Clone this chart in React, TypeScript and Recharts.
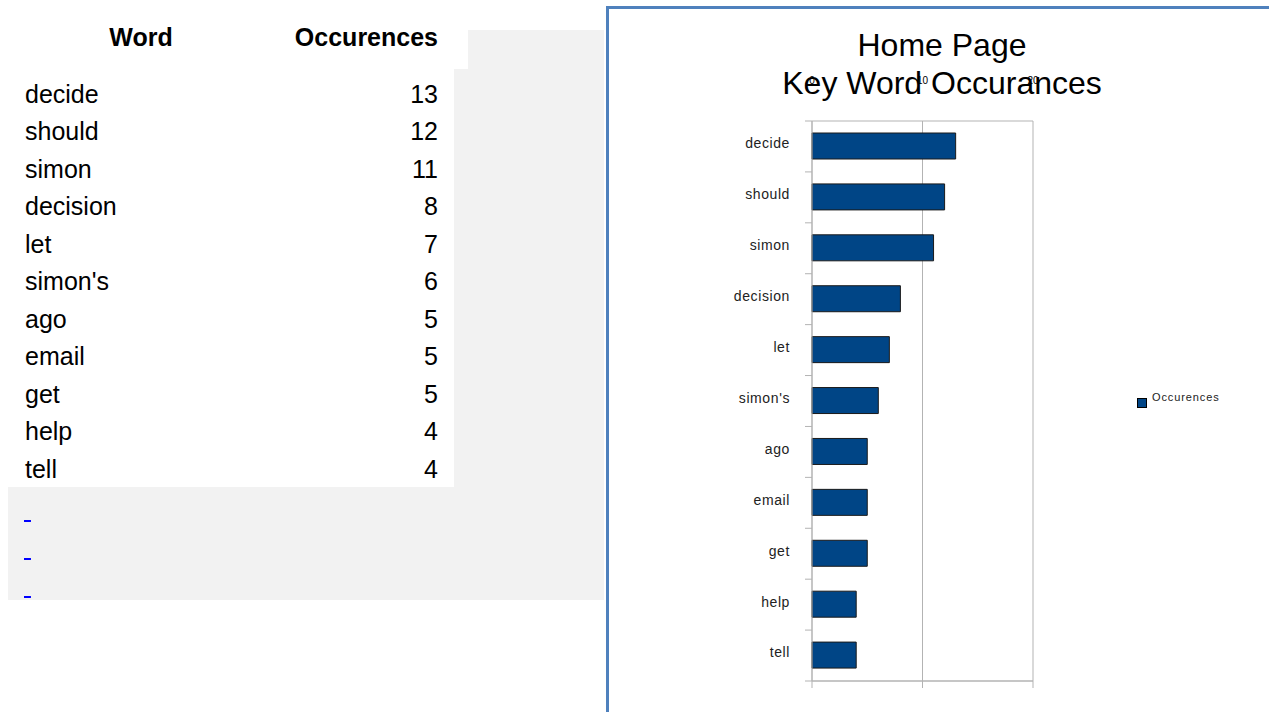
import React from 'react'
import { BarChart, Bar, XAxis, YAxis, CartesianGrid, Legend } from 'recharts'

const words = ['decide', 'should', 'simon', 'decision', 'let', "simon's", 'ago', 'email', 'get', 'help', 'tell']
const occurences = [13, 12, 11, 8, 7, 6, 5, 5, 5, 4, 4]
const xTicks = [0, 10, 20]
const linkRows = ['', '', '']

const data = words.map((w, i) => ({ word: w, Occurences: occurences[i] }))

const gridGray = '#b3b3b3'
const barBlue = '#004586'
const font = '"Liberation Sans", Arial, sans-serif'

// value ticks: line below the plot, label printed up near the title (as in the original)
const ValueTick = (props: any) => {
    const { x, payload } = props
    return (
        <text x={x} y={75} textAnchor="middle" fontSize={10} fontFamily={font} fill="#000">
            {payload.value}
        </text>
    )
}

const WordTick = (props: any) => {
    const { x, y, payload, index } = props
    const half = payload.offset || 25.45
    return (
        <g>
            <line x1={x - 7} x2={x} y1={y - half} y2={y - half} stroke={gridGray} />
            {index === words.length - 1 && (
                <line x1={x - 7} x2={x} y1={y + half} y2={y + half} stroke={gridGray} />
            )}
            <text
                x={x - 22}
                y={y - 3}
                dy="0.35em"
                textAnchor="end"
                fontSize={14}
                letterSpacing={0.6}
                fontFamily={font}
                fill="#222"
            >
                {payload.value}
            </text>
        </g>
    )
}

const LegendBox = () => (
    <div style={{ position: 'relative', width: 100, height: 16, fontFamily: font }}>
        <span
            style={{
                position: 'absolute', left: 0, top: 6, width: 8, height: 8,
                background: barBlue, border: '1px solid #000',
            }}
        />
        <span
            style={{
                position: 'absolute', left: 15, top: 0, fontSize: 11, lineHeight: '11px',
                letterSpacing: 0.9, color: '#222', whiteSpace: 'nowrap',
            }}
        >
            Occurences
        </span>
    </div>
)

const App = () => {
    return (
        <div
            style={{
                position: 'fixed', top: 0, left: 0, width: 1269, height: 712,
                overflow: 'hidden', background: '#fff', fontFamily: font,
            }}
        >
            {/* grey page background behind the table */}
            <div style={{ position: 'absolute', left: 8, top: 30, width: 596, height: 570, background: '#f2f2f2' }} />
            <div style={{ position: 'absolute', left: 8, top: 0, width: 460, height: 69, background: '#fff' }} />
            <div style={{ position: 'absolute', left: 8, top: 69, width: 446, height: 418, background: '#fff' }} />

            {/* table */}
            <div style={{ position: 'absolute', left: 91, top: 19, width: 100, textAlign: 'center', fontSize: 25, lineHeight: '37.5px', fontWeight: 'bold' }}>
                Word
            </div>
            <div style={{ position: 'absolute', left: 238, top: 19, width: 200, textAlign: 'right', fontSize: 25, lineHeight: '37.5px', fontWeight: 'bold' }}>
                Occurences
            </div>
            {words.map((w, i) => (
                <div key={w} style={{ position: 'absolute', left: 25, top: 75.5 + i * 37.5, width: 413, fontSize: 25, lineHeight: '37.5px' }}>
                    <span>{w}</span>
                    <span style={{ position: 'absolute', right: 0 }}>{occurences[i]}</span>
                </div>
            ))}
            {linkRows.map((l, i) => (
                <div key={i} style={{ position: 'absolute', left: 24, top: 492 + i * 38, fontSize: 25, lineHeight: '37.5px' }}>
                    <span style={{ color: '#0000ff', textDecoration: 'underline', textDecorationThickness: 2 }}>{l || '\u00a0'}</span>
                </div>
            ))}

            {/* chart title */}
            <div style={{ position: 'absolute', left: 742, top: 26, width: 400, textAlign: 'center', fontSize: 32, lineHeight: '38px', color: '#000' }}>
                Home Page
                <br />
                Key Word Occurances
            </div>

            {/* chart frame */}
            <div
                style={{
                    position: 'absolute', left: 606, top: 6, width: 663, height: 706,
                    borderLeft: '3px solid #4f81bd', borderTop: '3px solid #4f81bd', boxSizing: 'border-box',
                }}
            >
                <BarChart
                    width={660}
                    height={703}
                    data={data}
                    layout="vertical"
                    margin={{ top: 112, right: 236, bottom: 21, left: 103 }}
                >
                    <CartesianGrid
                        stroke={gridGray}
                        horizontalCoordinatesGenerator={({ offset }: any) => [offset.top, offset.top + offset.height]}
                    />
                    <XAxis
                        type="number"
                        domain={[0, 20]}
                        ticks={xTicks}
                        interval={0}
                        height={10}
                        tickSize={7}
                        tickLine={{ stroke: gridGray }}
                        axisLine={{ stroke: gridGray }}
                        tick={<ValueTick />}
                    />
                    <YAxis
                        type="category"
                        dataKey="word"
                        width={100}
                        interval={0}
                        tickLine={false}
                        tickSize={0}
                        tickMargin={0}
                        axisLine={{ stroke: gridGray }}
                        tick={<WordTick />}
                    />
                    <Legend
                        layout="horizontal"
                        verticalAlign="middle"
                        align="center"
                        content={() => <LegendBox />}
                        wrapperStyle={{ left: 528, top: 383, width: 100 }}
                    />
                    <Bar
                        dataKey="Occurences"
                        fill={barBlue}
                        stroke="#1a1a1a"
                        strokeWidth={1}
                        barSize={26}
                        isAnimationActive={false}
                    />
                </BarChart>
            </div>
        </div>
    )
}

export default App
